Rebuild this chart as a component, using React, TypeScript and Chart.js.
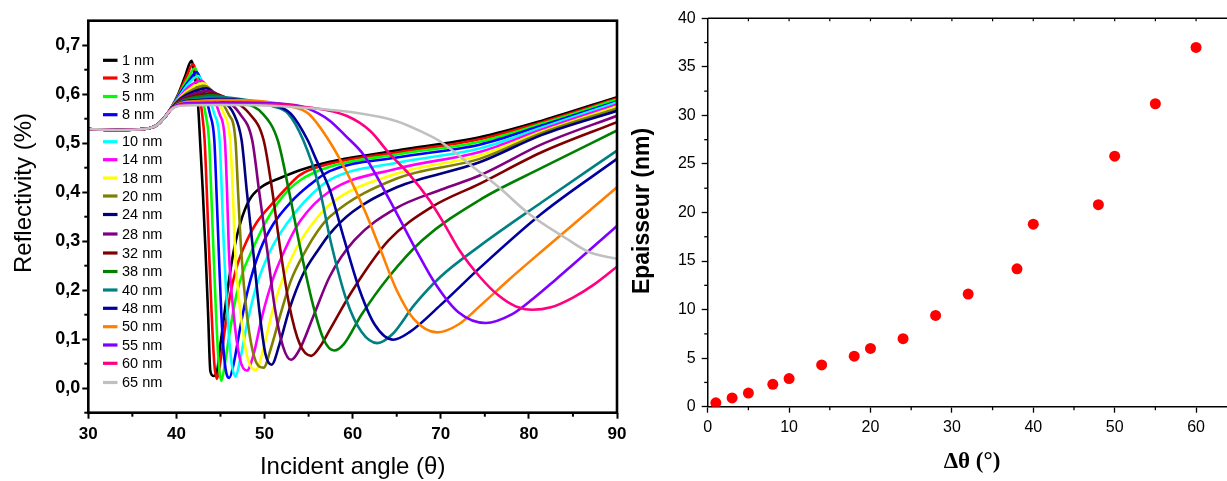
import React, { useEffect, useRef } from 'react';
import { Chart, registerables } from 'chart.js';

Chart.register(...registerables);

// ---------------- Left panel data ----------------
const THICKNESS_LABELS = ['1 nm', '3 nm', '5 nm', '8 nm', '10 nm', '14 nm', '18 nm', '20 nm', '24 nm', '28 nm', '32 nm', '38 nm', '40 nm', '48 nm', '50 nm', '55 nm', '60 nm', '65 nm'];
const CURVE_COLORS = ['#000000', '#ff0000', '#00ff00', '#0000ff', '#00ffff', '#ff00ff', '#ffff00', '#808000', '#000080', '#800080', '#800000', '#008000', '#008080', '#0000a0', '#ff8000', '#8000ff', '#ff0080', '#c0c0c0'];

const ANGLE_TICKS = [30, 40, 50, 60, 70, 80, 90];
const REFL_TICKS = [0, 0.1, 0.2, 0.3, 0.4, 0.5, 0.6, 0.7];

// common part below the critical angle (angle, reflectivity)
const PRE_CRITICAL: [number, number][] = [[30, 0.529], [33, 0.527], [35.5, 0.528], [37, 0.531], [37.8, 0.537], [38.5, 0.549], [39.05, 0.562]];

const R_1NM: [number, number][] = [[39.5, 0.575], [40.2, 0.6], [41.0, 0.637], [41.7, 0.668], [42.1, 0.635], [42.45, 0.58], [42.7, 0.5], [43.0, 0.4], [43.3, 0.282], [43.6, 0.15], [43.85, 0.035], [44.2, 0.025], [44.55, 0.03], [45.0, 0.09], [45.5, 0.16], [46.0, 0.225], [46.5, 0.28], [47.3, 0.34], [48.3, 0.385], [49.6, 0.41], [51.9, 0.43], [54, 0.445], [57.4, 0.462], [65, 0.485], [74.4, 0.512], [81.5, 0.546], [90, 0.594]];
const R_3NM: [number, number][] = [[39.5, 0.575], [40.3, 0.602], [41.1, 0.634], [41.9, 0.661], [42.4, 0.625], [42.85, 0.57], [43.2, 0.506], [43.45, 0.4], [43.7, 0.282], [44.0, 0.15], [44.3, 0.05], [44.6, 0.019], [45.0, 0.055], [45.5, 0.12], [46.1, 0.19], [46.8, 0.245], [47.6, 0.285], [49, 0.335], [50.8, 0.375], [52.3, 0.405], [54, 0.435], [57.4, 0.458], [65, 0.481], [74.4, 0.508], [81.5, 0.543], [90, 0.591]];
const R_5NM: [number, number][] = [[39.5, 0.574], [40.4, 0.603], [41.3, 0.632], [42.1, 0.653], [42.7, 0.615], [43.3, 0.56], [43.7, 0.506], [43.95, 0.4], [44.2, 0.282], [44.5, 0.15], [44.8, 0.05], [45.1, 0.015], [45.5, 0.05], [46.1, 0.12], [46.8, 0.19], [47.6, 0.24], [48.6, 0.282], [50, 0.335], [52, 0.39], [54, 0.424], [57.4, 0.452], [65, 0.477], [74.4, 0.503], [81.5, 0.54], [90, 0.589]];
const R_8NM: [number, number][] = [[39.5, 0.574], [40.4, 0.601], [41.4, 0.627], [42.3, 0.645], [43, 0.615], [43.8, 0.56], [44.3, 0.506], [44.55, 0.4], [44.8, 0.282], [45.1, 0.15], [45.5, 0.05], [46.0, 0.021], [46.5, 0.05], [47.2, 0.12], [48.1, 0.2], [49.5, 0.282], [51, 0.335], [53, 0.38], [55, 0.413], [57.4, 0.443], [65, 0.471], [74.4, 0.497], [81.5, 0.536], [90, 0.585]];
const R_10NM: [number, number][] = [[39.5, 0.574], [40.5, 0.6], [41.5, 0.624], [42.5, 0.637], [43.3, 0.61], [44.3, 0.56], [44.9, 0.506], [45.15, 0.4], [45.4, 0.282], [45.8, 0.15], [46.2, 0.06], [46.7, 0.024], [47.2, 0.055], [48.0, 0.13], [49.1, 0.21], [50.7, 0.282], [52.5, 0.335], [54.5, 0.38], [57.4, 0.425], [65, 0.46], [74.4, 0.489], [81.5, 0.532], [90, 0.583]];
const R_14NM: [number, number][] = [[39.5, 0.573], [40.5, 0.597], [41.6, 0.618], [42.8, 0.628], [43.8, 0.605], [44.9, 0.56], [45.5, 0.506], [45.75, 0.4], [45.95, 0.282], [46.5, 0.15], [47.2, 0.06], [48.0, 0.036], [48.7, 0.065], [49.7, 0.145], [50.9, 0.22], [52.3, 0.282], [54, 0.34], [57.4, 0.402], [65, 0.448], [74.4, 0.482], [81.5, 0.528], [90, 0.579]];
const R_18NM: [number, number][] = [[39.5, 0.573], [40.5, 0.595], [41.7, 0.613], [43.0, 0.622], [44.2, 0.6], [45.4, 0.56], [46.1, 0.506], [46.4, 0.4], [46.65, 0.282], [47.3, 0.15], [48.1, 0.06], [49.0, 0.037], [49.8, 0.075], [50.8, 0.15], [52, 0.22], [53.5, 0.282], [55, 0.325], [57.4, 0.375], [65, 0.438], [74.4, 0.475], [81.5, 0.524], [90, 0.575]];
const R_20NM: [number, number][] = [[39.5, 0.573], [40.5, 0.593], [41.8, 0.609], [43.2, 0.617], [44.6, 0.595], [45.9, 0.56], [46.7, 0.506], [47.0, 0.4], [47.35, 0.282], [48.0, 0.15], [48.9, 0.06], [49.9, 0.042], [50.7, 0.08], [51.8, 0.15], [53, 0.22], [54.7, 0.282], [56, 0.32], [57.4, 0.35], [65, 0.428], [74.4, 0.468], [81.5, 0.521], [90, 0.571]];
const R_24NM: [number, number][] = [[39.5, 0.573], [40.5, 0.591], [41.9, 0.605], [43.4, 0.612], [45, 0.59], [46.5, 0.56], [47.4, 0.506], [48.0, 0.4], [48.7, 0.282], [49.4, 0.16], [50.1, 0.07], [50.8, 0.048], [51.7, 0.09], [52.8, 0.16], [54.3, 0.23], [56.2, 0.285], [57.4, 0.315], [60, 0.36], [65, 0.41], [74.4, 0.461], [81.5, 0.517], [90, 0.566]];
const R_28NM: [number, number][] = [[39.5, 0.572], [40.5, 0.589], [42, 0.601], [43.6, 0.607], [45.5, 0.59], [47.2, 0.56], [48.6, 0.506], [49.4, 0.4], [50.3, 0.282], [51.2, 0.16], [52.1, 0.085], [53.0, 0.058], [54, 0.08], [55.5, 0.145], [57.4, 0.228], [60.2, 0.302], [64.9, 0.367], [70, 0.405], [74.4, 0.434], [81.5, 0.498], [90, 0.556]];
const R_32NM: [number, number][] = [[39.5, 0.572], [40.5, 0.587], [42, 0.597], [43.9, 0.602], [46, 0.59], [48.3, 0.56], [49.9, 0.506], [50.9, 0.4], [51.8, 0.282], [52.8, 0.17], [54, 0.09], [55.3, 0.066], [56.3, 0.085], [57.4, 0.119], [60, 0.2], [64.1, 0.302], [69, 0.37], [74.4, 0.417], [81.5, 0.482], [90, 0.543]];
const R_38NM: [number, number][] = [[39.5, 0.572], [40.5, 0.585], [42.2, 0.594], [44.2, 0.598], [47, 0.585], [49.8, 0.56], [51.5, 0.506], [52.8, 0.4], [54.1, 0.282], [55.5, 0.17], [56.7, 0.1], [57.9, 0.077], [59, 0.09], [61, 0.15], [64, 0.225], [67.9, 0.302], [74.4, 0.384], [81.5, 0.45], [90, 0.526]];
const R_40NM: [number, number][] = [[39.5, 0.572], [40.5, 0.584], [42.3, 0.591], [44.5, 0.594], [48, 0.588], [51, 0.575], [52.7, 0.56], [54.4, 0.506], [56.2, 0.41], [57.5, 0.3], [59.3, 0.18], [61, 0.115], [62.8, 0.092], [64.5, 0.11], [67, 0.17], [70, 0.228], [74.4, 0.29], [81.5, 0.38], [90, 0.485]];
const R_48NM: [number, number][] = [[39.5, 0.572], [40.5, 0.583], [42.5, 0.588], [44.8, 0.59], [48, 0.587], [51, 0.578], [53, 0.56], [54.9, 0.506], [55.9, 0.465], [57.4, 0.405], [59.1, 0.3], [60.8, 0.2], [62.5, 0.13], [64.6, 0.099], [66.5, 0.115], [70, 0.17], [74.4, 0.245], [81.5, 0.357], [90, 0.468]];
const R_50NM: [number, number][] = [[39.5, 0.571], [40.5, 0.582], [42.5, 0.586], [45, 0.588], [50, 0.585], [53, 0.575], [55, 0.56], [57.5, 0.5], [59.6, 0.431], [61.5, 0.357], [63, 0.29], [65, 0.2], [67, 0.14], [69.6, 0.114], [72, 0.13], [74.4, 0.167], [77.7, 0.221], [81.5, 0.28], [90, 0.41]];
const R_55NM: [number, number][] = [[39.5, 0.571], [40.5, 0.58], [42.5, 0.582], [45, 0.583], [50, 0.582], [54, 0.576], [56, 0.562], [57.4, 0.546], [59.2, 0.515], [61.3, 0.475], [64.2, 0.384], [67.2, 0.282], [69.5, 0.21], [72, 0.155], [75.1, 0.133], [78, 0.15], [80.5, 0.183], [83, 0.221], [90, 0.331]];
const R_60NM: [number, number][] = [[39.5, 0.571], [40.5, 0.578], [42.5, 0.58], [45, 0.58], [50, 0.58], [55.1, 0.573], [59.3, 0.556], [62, 0.525], [64.2, 0.478], [66.5, 0.435], [68.7, 0.384], [70.4, 0.335], [72.1, 0.282], [74.4, 0.228], [76.5, 0.19], [78.5, 0.167], [80.4, 0.16], [82.5, 0.165], [85, 0.185], [87.5, 0.213], [90, 0.248]];
const R_65NM: [number, number][] = [[39.5, 0.57], [40.2, 0.576], [45, 0.578], [50, 0.577], [54, 0.573], [60, 0.563], [65, 0.545], [68, 0.522], [70, 0.503], [73.2, 0.458], [76.6, 0.41], [80, 0.356], [84.2, 0.306], [86.8, 0.278], [90, 0.264]];

const CURVES = [R_1NM, R_3NM, R_5NM, R_8NM, R_10NM, R_14NM, R_18NM, R_20NM, R_24NM, R_28NM, R_32NM, R_38NM, R_40NM, R_48NM, R_50NM, R_55NM, R_60NM, R_65NM];

// ---------------- Right panel data ----------------
const DELTA_THETA = [1, 3, 5, 8, 10, 14, 18, 20, 24, 28, 32, 38, 40, 48, 50, 55, 60];
const EPAISSEUR = [0.4, 0.9, 1.4, 2.3, 2.9, 4.3, 5.2, 6.0, 7.0, 9.4, 11.6, 14.2, 18.8, 20.8, 25.8, 31.2, 37.0];
const DT_TICKS = [0, 10, 20, 30, 40, 50, 60];
const EP_TICKS = [0, 5, 10, 15, 20, 25, 30, 35, 40];

const SANS = "'Liberation Sans', Arial, Helvetica, sans-serif";
const SERIF = "'Liberation Serif', 'Times New Roman', serif";

const noOverhang = (s: any) => {
  s.paddingLeft = 0; s.paddingRight = 0; s.paddingTop = 0; s.paddingBottom = 0;
};

const leftDecor = {
  id: 'leftDecor',
  afterDraw(chart: any) {
    const { ctx, chartArea: a, scales } = chart;
    ctx.save();
    ctx.strokeStyle = '#000';
    // minor ticks
    ctx.lineWidth = 2;
    for (let v = 35; v < 90; v += 10) {
      const px = scales.x.getPixelForValue(v);
      ctx.beginPath(); ctx.moveTo(px, a.bottom); ctx.lineTo(px, a.bottom + 4); ctx.stroke();
    }
    for (let k = -1; k <= 13; k += 2) {
      const py = scales.y.getPixelForValue(k * 0.05);
      ctx.beginPath(); ctx.moveTo(a.left, py); ctx.lineTo(a.left - 4, py); ctx.stroke();
    }
    // frame
    ctx.lineWidth = 2.6;
    ctx.strokeRect(a.left, a.top, a.right - a.left, a.bottom - a.top);
    // legend
    const rows = [60.3, 78, 96.5, 114.7, 141.7, 159.7, 178, 196, 214.5, 234, 253, 271.5, 290, 308.3, 326.7, 345, 363.3, 382.5];
    ctx.font = `14.5px ${SANS}`;
    ctx.textBaseline = 'middle';
    ctx.textAlign = 'left';
    ctx.fillStyle = '#000';
    THICKNESS_LABELS.forEach((lab, i) => {
      const y = rows[i];
      ctx.strokeStyle = CURVE_COLORS[i];
      ctx.lineWidth = 3.2;
      ctx.beginPath(); ctx.moveTo(103, y); ctx.lineTo(117.5, y); ctx.stroke();
      ctx.fillText(lab, 122, y + 0.5);
    });
    // axis titles
    ctx.font = `24px ${SANS}`;
    ctx.textAlign = 'center';
    ctx.fillText('Incident angle (\u03b8)', (a.left + a.right) / 2, 467);
    ctx.save();
    ctx.translate(24, 193);
    ctx.rotate(-Math.PI / 2);
    ctx.fillText('Reflectivity (%)', 0, 0);
    ctx.restore();
    ctx.restore();
  },
};

const rightDecor = {
  id: 'rightDecor',
  afterDraw(chart: any) {
    const { ctx, chartArea: a, scales } = chart;
    ctx.save();
    ctx.strokeStyle = '#000';
    ctx.lineWidth = 1.3;
    for (let v = 5; v < 64; v += 10) {
      const px = scales.x.getPixelForValue(v);
      ctx.beginPath(); ctx.moveTo(px, a.bottom); ctx.lineTo(px, a.bottom + 3.5); ctx.stroke();
    }
    for (let v = 2.5; v < 40; v += 5) {
      const py = scales.y.getPixelForValue(v);
      ctx.beginPath(); ctx.moveTo(a.left, py); ctx.lineTo(a.left - 3.5, py); ctx.stroke();
    }
    // top line with small ticks
    ctx.lineWidth = 1.5;
    ctx.beginPath(); ctx.moveTo(a.left, a.top); ctx.lineTo(a.right + 2, a.top); ctx.stroke();
    ctx.lineWidth = 1.2;
    for (let v = 5; v < 64; v += 5) {
      const px = scales.x.getPixelForValue(v);
      ctx.beginPath(); ctx.moveTo(px, a.top); ctx.lineTo(px, a.top + 3); ctx.stroke();
    }
    ctx.fillStyle = '#000';
    ctx.textAlign = 'center';
    ctx.textBaseline = 'middle';
    ctx.font = `bold 23px ${SERIF}`;
    ctx.fillText('\u0394\u03b8 (\u00b0)', 352, 462);
    ctx.font = `bold 23px ${SANS}`;
    ctx.save();
    ctx.translate(23, 211);
    ctx.rotate(-Math.PI / 2);
    ctx.fillText('Epaisseur (nm)', 0, 0);
    ctx.restore();
    ctx.restore();
  },
};

function LeftPanel() {
  const ref = useRef<HTMLCanvasElement>(null);
  useEffect(() => {
    const datasets = CURVES.map((pts, i) => ({
      label: THICKNESS_LABELS[i],
      data: [...PRE_CRITICAL, ...pts].map(([x, y]) => ({ x, y })),
      borderColor: CURVE_COLORS[i],
      backgroundColor: CURVE_COLORS[i],
      borderWidth: 2.6,
      pointRadius: 0,
      fill: false,
      cubicInterpolationMode: 'monotone' as const,
      order: CURVES.length - i,
    }));
    const chart = new Chart(ref.current as HTMLCanvasElement, {
      type: 'line',
      data: { datasets },
      options: {
        animation: false,
        responsive: false,
        events: [],
        layout: { autoPadding: false, padding: { top: 20.7, right: 23, left: 0, bottom: 0 } },
        plugins: { legend: { display: false }, tooltip: { enabled: false } },
        scales: {
          x: {
            type: 'linear',
            min: 30,
            max: 90,
            afterBuildTicks: (s: any) => { s.ticks = ANGLE_TICKS.map((v) => ({ value: v })); },
            afterFit: (s: any) => { s.height = 481 - 412.7; noOverhang(s); },
            border: { display: false },
            grid: { drawOnChartArea: false, drawTicks: true, tickLength: 6, tickWidth: 2, color: '#000' },
            ticks: { color: '#000', padding: 5, maxRotation: 0, autoSkip: false, font: { family: SANS, size: 17, weight: 'bold' } },
          },
          y: {
            type: 'linear',
            min: -0.05,
            max: 0.75,
            afterBuildTicks: (s: any) => { s.ticks = REFL_TICKS.map((v) => ({ value: v })); },
            afterFit: (s: any) => { s.width = 88.3; noOverhang(s); },
            border: { display: false },
            grid: { drawOnChartArea: false, drawTicks: true, tickLength: 6, tickWidth: 2, color: '#000' },
            ticks: { color: '#000', padding: 2, autoSkip: false, font: { family: SANS, size: 18, weight: 'bold' }, callback: (v: any) => Number(v).toFixed(1).replace('.', ',') },
          },
        },
      },
      plugins: [leftDecor],
    } as any);
    return () => chart.destroy();
  }, []);
  return <canvas ref={ref} width={640} height={481} style={{ position: 'absolute', left: 0, top: 0, width: 640, height: 481, zIndex: 2 }} />;
}

function RightPanel() {
  const ref = useRef<HTMLCanvasElement>(null);
  useEffect(() => {
    const chart = new Chart(ref.current as HTMLCanvasElement, {
      type: 'scatter',
      data: {
        datasets: [{
          label: 'Epaisseur',
          data: DELTA_THETA.map((x, i) => ({ x, y: EPAISSEUR[i] })),
          backgroundColor: '#ff0000',
          borderColor: '#ff0000',
          borderWidth: 0,
          pointRadius: 5.5,
        }],
      },
      options: {
        animation: false,
        responsive: false,
        events: [],
        layout: { autoPadding: false, padding: { top: 18.3, right: 0, left: 0, bottom: 0 } },
        plugins: { legend: { display: false }, tooltip: { enabled: false } },
        scales: {
          x: {
            type: 'linear',
            min: 0,
            max: 63.8,
            afterBuildTicks: (s: any) => { s.ticks = DT_TICKS.map((v) => ({ value: v })); },
            afterFit: (s: any) => { s.height = 481 - 406.7; noOverhang(s); },
            border: { display: true, color: '#000', width: 1.5 },
            grid: { drawOnChartArea: false, drawTicks: true, tickLength: 6, tickWidth: 1.3, color: '#000' },
            ticks: { color: '#000', padding: 5, maxRotation: 0, autoSkip: false, font: { family: SANS, size: 16 } },
          },
          y: {
            type: 'linear',
            min: 0,
            max: 40,
            afterBuildTicks: (s: any) => { s.ticks = EP_TICKS.map((v) => ({ value: v })); },
            afterFit: (s: any) => { s.width = 87.7; noOverhang(s); },
            border: { display: true, color: '#000', width: 1.5 },
            grid: { drawOnChartArea: false, drawTicks: true, tickLength: 6, tickWidth: 1.3, color: '#000' },
            ticks: { color: '#000', padding: 6, autoSkip: false, font: { family: SANS, size: 16 } },
          },
        },
      },
      plugins: [rightDecor],
    } as any);
    return () => chart.destroy();
  }, []);
  return <canvas ref={ref} width={607} height={481} style={{ position: 'absolute', left: 620, top: 0, width: 607, height: 481, zIndex: 1 }} />;
}

export default function App() {
  return (
    <div style={{ position: 'fixed', left: 0, top: 0, width: 1227, height: 481, background: '#ffffff', overflow: 'hidden' }}>
      <LeftPanel />
      <RightPanel />
    </div>
  );
}
